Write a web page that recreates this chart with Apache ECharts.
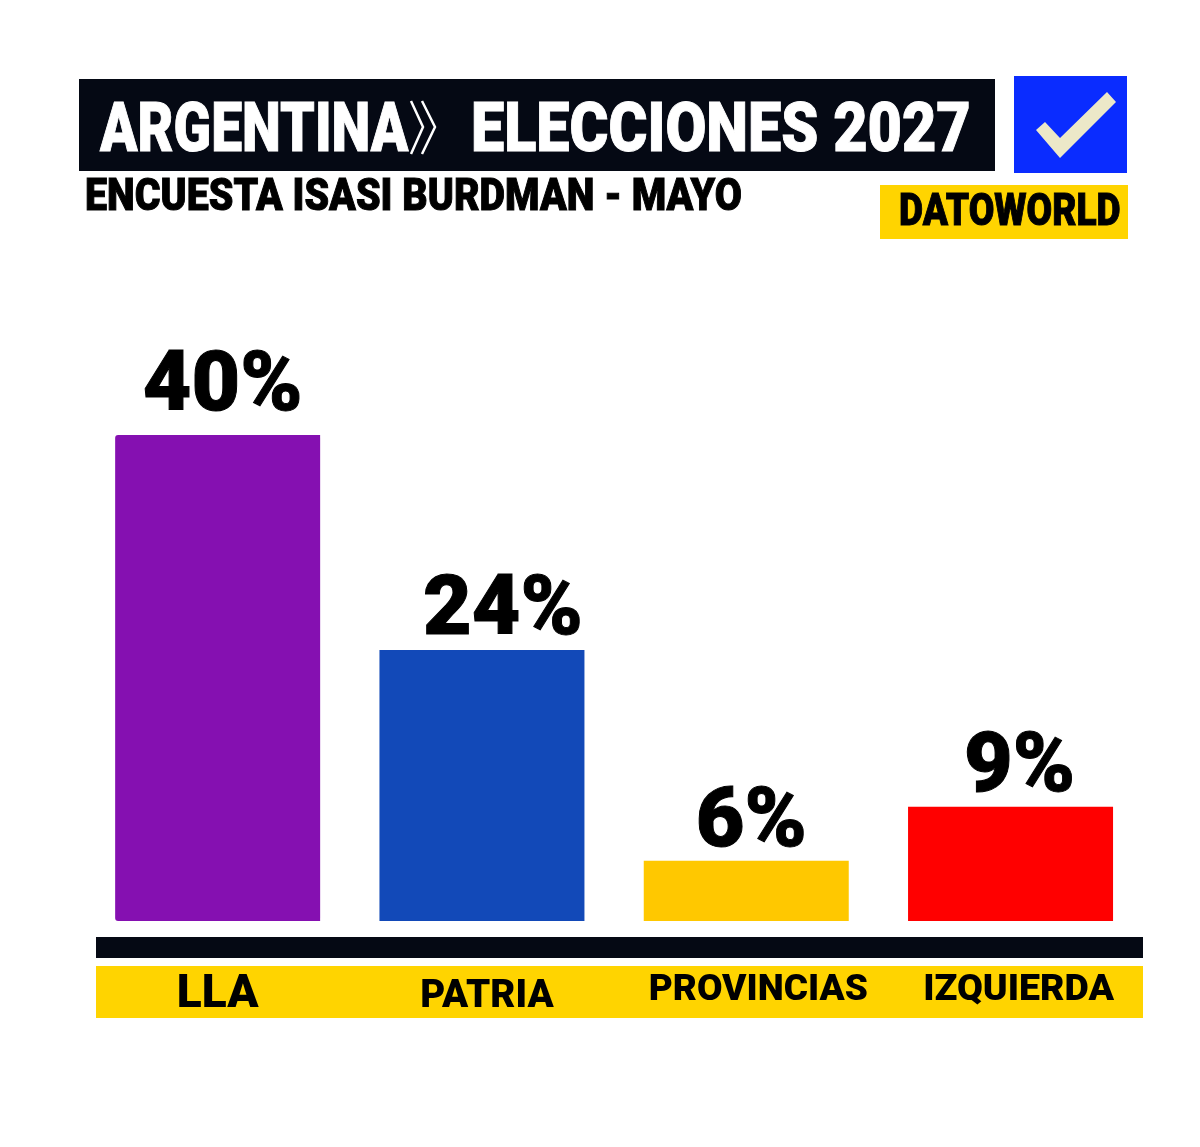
<!DOCTYPE html>
<html><head><meta charset="utf-8">
<style>html,body{margin:0;padding:0;background:#fff}#c{width:1200px;height:1147px}</style>
<script src="https://cdn.jsdelivr.net/npm/echarts@6/dist/echarts.min.js"></script>
</head><body><div id="c"></div>
<script>
const categories = ['LLA','PATRIA','PROVINCIAS','IZQUIERDA'];
// Printed percentages
const printedLabels = ['40%','24%','6%','9%'];
// Drawn bar heights (the source does not draw them proportionally to the labels)
const barHeights = [40, 22.3, 4.95, 9.4];
const barColors = ['#8510b1','#1249b8','#ffc800','#ff0000'];
const titleLeft = 'ARGENTINA';
const titleRight = 'ELECCIONES 2027';
const subtitle = 'ENCUESTA ISASI BURDMAN - MAYO';
const brand = 'DATOWORLD';
const labelOffsets = [[5,-1],[21,8],[5,9],[9,8]];
const catFont = [46,38.5,37,37.5];
const catPad = [[1,0,0,0],[7,0,0,10],[1,0,0,24],[1,0,0,16]];

const FONT = 'Roboto';
const chart = echarts.init(document.getElementById('c'),null,{renderer:'canvas'});
function txt(t,x,y,size,fill,sx){return {type:'text',z:5,x:x,y:y,scaleX:sx||1,style:{text:t,fill:fill,stroke:fill,lineWidth:1,fontFamily:FONT,fontWeight:900,fontSize:size,verticalAlign:'middle',align:'left'}};}
chart.setOption({
  animation:false,
  backgroundColor:'#fff',
  grid:{left:85.5,right:57.3,top:435,bottom:226},
  xAxis:{type:'category',data:categories.map((c,i)=>({value:c,textStyle:{fontSize:catFont[i],padding:catPad[i]}})),
    axisLine:{show:false},axisTick:{show:false},
    axisLabel:{interval:0,margin:50,color:'#000',fontFamily:FONT,fontWeight:900}},
  yAxis:{type:'value',min:0,max:40,show:false,splitLine:{show:false}},
  series:[{type:'bar',barWidth:205,
    data:barHeights.map((v,i)=>({value:v,itemStyle:{color:barColors[i],borderRadius:i===0?[3,0,0,3]:0},
      label:{show:true,position:'top',distance:3,offset:labelOffsets[i],formatter:printedLabels[i],
        fontFamily:'Roboto',fontWeight:900,fontSize:84,color:'#000',textBorderColor:'#000',textBorderWidth:1}}))}],
  graphic:[
    {type:'rect',z:-1,shape:{x:79,y:79,width:916,height:92},style:{fill:'#050914'}},
    {type:'rect',z:-1,shape:{x:1014,y:76,width:113,height:97},style:{fill:'#0a2cff'}},
    {type:'polygon',z:1,shape:{points:[[1036,130],[1045,122],[1060,138],[1107,92],[1116,102],[1060,158]]},style:{fill:'#ece8c8'}},
    {type:'rect',z:-1,shape:{x:880,y:185,width:248,height:54},style:{fill:'#ffd400'}},
    {type:'rect',z:-1,shape:{x:96,y:937,width:1047,height:21},style:{fill:'#050914'}},
    {type:'rect',z:-1,shape:{x:96,y:966,width:1047,height:52},style:{fill:'#ffd400'}},
    txt(titleLeft,100,134,69,'#fff',0.80),
    {type:'polyline',z:5,shape:{points:[[411,101],[423,127],[411,154]]},style:{fill:'none',stroke:'#fff',lineWidth:2.5}},
    {type:'polyline',z:5,shape:{points:[[422,101],[435,127],[422,154]]},style:{fill:'none',stroke:'#fff',lineWidth:2.5}},
    txt(titleRight,471,134,69,'#fff',0.86),
    txt(subtitle,85,199,44,'#000',0.895),
    txt(brand,899,214,45,'#000',0.825)
  ]
});
</script></body></html>
